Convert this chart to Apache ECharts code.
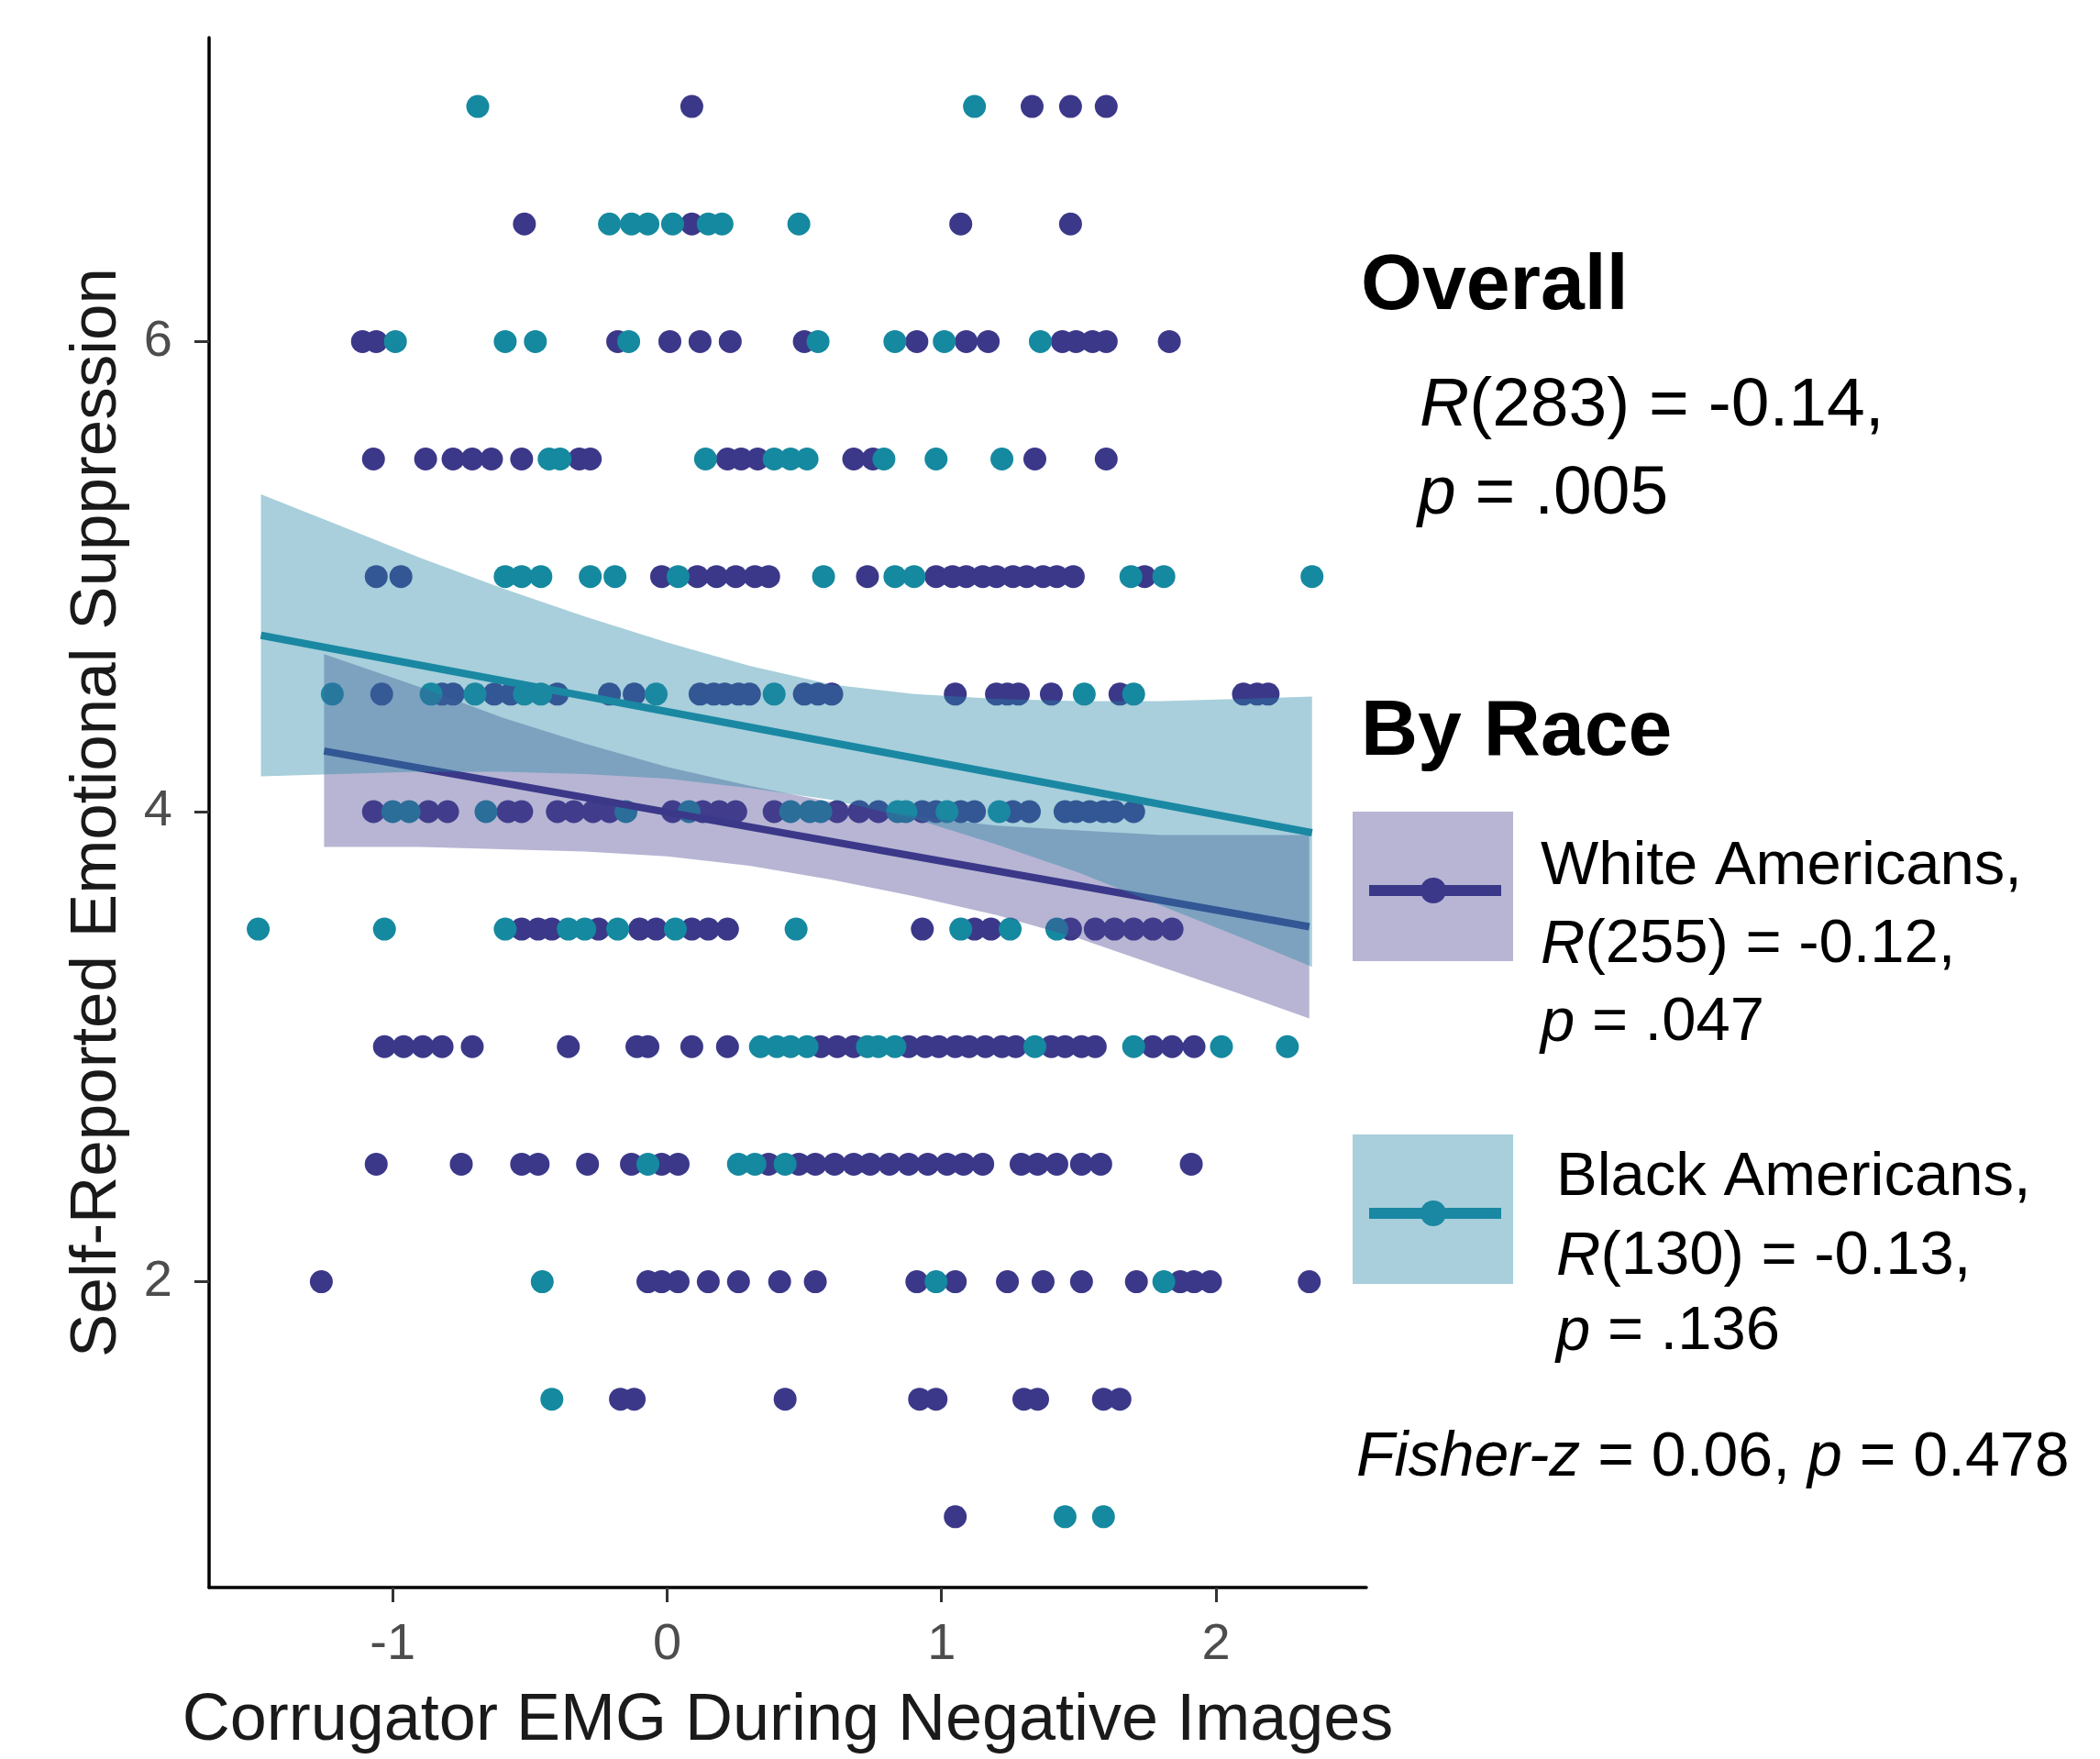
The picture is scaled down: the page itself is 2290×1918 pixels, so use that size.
<!DOCTYPE html>
<html>
<head>
<meta charset="utf-8">
<script src="https://cdn.jsdelivr.net/npm/echarts@6/dist/echarts.min.js"></script>
<style>
  html, body { margin: 0; padding: 0; background: #fff; }
  #chart { width: 2290px; height: 1918px; }
</style>
</head>
<body>
<div id="chart"></div>
<script>
// scatter data: [emg, suppression]
const whitePoints = [
  [0.09, 7], [1.33, 7], [1.47, 7], [1.60, 7],
  [-0.52, 6.5], [0.09, 6.5], [1.07, 6.5], [1.47, 6.5],
  [-1.11, 6], [-1.06, 6], [-0.18, 6], [0.01, 6], [0.12, 6], [0.23, 6], [0.50, 6], [0.91, 6], [1.09, 6], [1.17, 6],
  [1.44, 6], [1.49, 6], [1.55, 6], [1.60, 6], [1.83, 6],
  [-1.07, 5.5], [-0.88, 5.5], [-0.78, 5.5], [-0.71, 5.5], [-0.64, 5.5], [-0.53, 5.5], [-0.32, 5.5], [-0.28, 5.5],
  [0.22, 5.5], [0.27, 5.5], [0.33, 5.5], [0.68, 5.5], [0.75, 5.5], [1.34, 5.5], [1.60, 5.5],
  [-1.06, 5], [-0.97, 5], [-0.02, 5], [0.11, 5], [0.18, 5], [0.25, 5], [0.32, 5], [0.37, 5], [0.73, 5], [0.98, 5],
  [1.04, 5], [1.09, 5], [1.15, 5], [1.20, 5], [1.26, 5], [1.31, 5], [1.37, 5], [1.42, 5], [1.48, 5], [1.74, 5],
  [-1.04, 4.5], [-0.82, 4.5], [-0.78, 4.5], [-0.63, 4.5], [-0.57, 4.5], [-0.40, 4.5], [-0.21, 4.5], [-0.12, 4.5],
  [0.12, 4.5], [0.17, 4.5], [0.21, 4.5], [0.26, 4.5], [0.30, 4.5], [0.50, 4.5], [0.55, 4.5], [0.60, 4.5],
  [1.05, 4.5], [1.20, 4.5], [1.24, 4.5], [1.28, 4.5], [1.40, 4.5], [1.65, 4.5], [2.10, 4.5], [2.15, 4.5], [2.19, 4.5],
  [-1.07, 4], [-0.87, 4], [-0.80, 4], [-0.58, 4], [-0.53, 4], [-0.40, 4], [-0.34, 4], [-0.27, 4], [-0.21, 4],
  [0.02, 4], [0.13, 4], [0.19, 4], [0.25, 4], [0.39, 4], [0.62, 4], [0.70, 4], [0.77, 4], [0.93, 4], [0.98, 4],
  [1.07, 4], [1.12, 4], [1.26, 4], [1.32, 4], [1.45, 4], [1.49, 4], [1.54, 4], [1.59, 4], [1.63, 4], [1.70, 4],
  [-0.53, 3.5], [-0.47, 3.5], [-0.42, 3.5], [-0.25, 3.5], [-0.10, 3.5], [-0.04, 3.5], [0.09, 3.5], [0.15, 3.5],
  [0.22, 3.5], [0.93, 3.5], [1.12, 3.5], [1.18, 3.5], [1.47, 3.5], [1.56, 3.5], [1.63, 3.5], [1.70, 3.5], [1.77, 3.5], [1.84, 3.5],
  [-1.03, 3], [-0.96, 3], [-0.89, 3], [-0.82, 3], [-0.71, 3], [-0.36, 3], [-0.11, 3], [-0.07, 3], [0.09, 3], [0.22, 3],
  [0.56, 3], [0.62, 3], [0.68, 3], [0.88, 3], [0.94, 3], [0.99, 3], [1.05, 3], [1.10, 3], [1.16, 3], [1.22, 3],
  [1.27, 3], [1.40, 3], [1.45, 3], [1.51, 3], [1.56, 3], [1.77, 3], [1.84, 3], [1.92, 3],
  [-1.06, 2.5], [-0.75, 2.5], [-0.53, 2.5], [-0.47, 2.5], [-0.29, 2.5], [-0.13, 2.5], [-0.02, 2.5], [0.04, 2.5],
  [0.37, 2.5], [0.48, 2.5], [0.54, 2.5], [0.61, 2.5], [0.68, 2.5], [0.74, 2.5], [0.81, 2.5], [0.88, 2.5], [0.95, 2.5],
  [1.02, 2.5], [1.08, 2.5], [1.15, 2.5], [1.29, 2.5], [1.35, 2.5], [1.42, 2.5], [1.51, 2.5], [1.58, 2.5], [1.91, 2.5],
  [-1.26, 2], [-0.07, 2], [-0.02, 2], [0.04, 2], [0.15, 2], [0.26, 2], [0.41, 2], [0.54, 2], [0.91, 2], [1.05, 2],
  [1.24, 2], [1.37, 2], [1.51, 2], [1.71, 2], [1.87, 2], [1.92, 2], [1.98, 2], [2.34, 2],
  [-0.17, 1.5], [-0.12, 1.5], [0.43, 1.5], [0.92, 1.5], [0.98, 1.5], [1.30, 1.5], [1.35, 1.5], [1.59, 1.5], [1.65, 1.5],
  [1.05, 1]
];
const blackPoints = [
  [-0.69, 7], [1.12, 7],
  [-0.21, 6.5], [-0.13, 6.5], [-0.07, 6.5], [0.02, 6.5], [0.15, 6.5], [0.20, 6.5], [0.48, 6.5],
  [-0.99, 6], [-0.59, 6], [-0.48, 6], [-0.14, 6], [0.55, 6], [0.83, 6], [1.01, 6], [1.36, 6],
  [-0.43, 5.5], [-0.39, 5.5], [0.14, 5.5], [0.39, 5.5], [0.45, 5.5], [0.51, 5.5], [0.79, 5.5], [0.98, 5.5], [1.22, 5.5],
  [-0.59, 5], [-0.53, 5], [-0.46, 5], [-0.28, 5], [-0.19, 5], [0.04, 5], [0.57, 5], [0.83, 5], [0.90, 5], [1.69, 5], [1.81, 5], [2.35, 5],
  [-1.22, 4.5], [-0.86, 4.5], [-0.70, 4.5], [-0.52, 4.5], [-0.46, 4.5], [-0.04, 4.5], [0.39, 4.5], [1.52, 4.5], [1.70, 4.5],
  [-1.00, 4], [-0.94, 4], [-0.66, 4], [-0.15, 4], [0.08, 4], [0.45, 4], [0.52, 4], [0.56, 4], [0.84, 4], [0.87, 4], [1.02, 4], [1.21, 4],
  [-1.49, 3.5], [-1.03, 3.5], [-0.59, 3.5], [-0.36, 3.5], [-0.30, 3.5], [-0.18, 3.5], [0.03, 3.5], [0.47, 3.5], [1.07, 3.5], [1.25, 3.5], [1.42, 3.5],
  [0.34, 3], [0.40, 3], [0.45, 3], [0.51, 3], [0.73, 3], [0.77, 3], [0.83, 3], [1.34, 3], [1.70, 3], [2.02, 3], [2.26, 3],
  [-0.07, 2.5], [0.26, 2.5], [0.32, 2.5], [0.43, 2.5],
  [-0.455, 2], [0.98, 2], [1.81, 2],
  [-0.42, 1.5],
  [1.45, 1], [1.59, 1]
];

// fitted lines (ends) and confidence bands
const whiteFitX = [-1.25, 2.34];
const whiteFitY = [4.258, 3.51];
const blackFitX = [-1.48, 2.35];
const blackFitY = [4.75, 3.91];

const whiteBandX  = [-1.25, -0.9, -0.6, -0.3, 0.0, 0.3, 0.6, 0.9, 1.2, 1.5, 1.8, 2.1, 2.34];
const whiteBandHi = [4.67, 4.53, 4.40, 4.29, 4.19, 4.11, 4.04, 3.98, 3.94, 3.92, 3.90, 3.90, 3.90];
const whiteBandLo = [3.85, 3.85, 3.84, 3.83, 3.81, 3.77, 3.71, 3.64, 3.56, 3.46, 3.34, 3.22, 3.12];

const blackBandX  = [-1.48, -1.2, -0.9, -0.6, -0.3, 0.0, 0.3, 0.6, 0.9, 1.2, 1.5, 1.8, 2.1, 2.35];
const blackBandHi = [5.35, 5.22, 5.08, 4.95, 4.83, 4.72, 4.62, 4.54, 4.50, 4.48, 4.47, 4.47, 4.48, 4.49];
const blackBandLo = [4.15, 4.16, 4.17, 4.17, 4.16, 4.14, 4.10, 4.05, 3.97, 3.86, 3.74, 3.60, 3.46, 3.34];

const xTicks = [-1, 0, 1, 2];
const yTicks = [2, 4, 6];

const PURPLE = '#3b3889';
const TEAL = '#15899f';
const FONT = "'Liberation Sans', Arial, sans-serif";

function band(name, xs, lo, hi, fill, z) {
  return {
    type: 'custom',
    name: name,
    z: z,
    silent: true,
    clip: true,
    encode: { x: 0, y: [1, 2] },
    data: xs.map((x, i) => [x, lo[i], hi[i]]),
    renderItem: function (params, api) {
      if (params.dataIndex !== 0) return null;
      const top = xs.map((x, i) => api.coord([x, hi[i]]));
      const bot = xs.map((x, i) => api.coord([x, lo[i]])).reverse();
      return {
        type: 'polygon',
        shape: { points: top.concat(bot) },
        style: { fill: fill, opacity: 0.4 }
      };
    }
  };
}

function fitLine(name, xs, ys, color, z) {
  return {
    type: 'line',
    name: name,
    z: z,
    silent: true,
    symbol: 'none',
    data: xs.map((x, i) => [x, ys[i]]),
    lineStyle: { color: color, width: 8 }
  };
}

function txt(x, y, text, size) {
  return {
    type: 'text',
    x: x,
    y: y,
    style: {
      text: text,
      fill: '#000',
      fontSize: size,
      fontFamily: FONT,
      textAlign: 'left',
      textVerticalAlign: 'middle',
      rich: {
        i: { fontStyle: 'italic', fontSize: size, fontFamily: FONT, fill: '#000' },
        n: { fontSize: size, fontFamily: FONT, fill: '#000' }
      }
    }
  };
}

function bold(x, y, text) {
  return {
    type: 'text',
    x: x,
    y: y,
    style: { text: text, fill: '#000', fontSize: 86, fontWeight: 'bold', fontFamily: FONT, textAlign: 'left', textVerticalAlign: 'middle' }
  };
}

function legendKey(y, fill, color) {
  return [
    { type: 'rect', shape: { x: 1475, y: y, width: 175, height: 163 }, style: { fill: fill } },
    { type: 'line', shape: { x1: 1493, y1: y + 86, x2: 1637, y2: y + 86 }, style: { stroke: color, lineWidth: 12 } },
    { type: 'circle', shape: { cx: 1563, cy: y + 86, r: 14 }, style: { fill: color } }
  ];
}

const chart = echarts.init(document.getElementById('chart'));

const option = {
  backgroundColor: '#fff',
  animation: false,
  grid: { left: 228, top: 41, width: 1262, height: 1705 },
  xAxis: {
    type: 'value',
    min: -1.669,
    max: 2.548,
    name: 'Corrugator EMG During Negative Images',
    nameLocation: 'middle',
    nameGap: 110,
    nameTextStyle: { fontSize: 72, color: '#1a1a1a', fontFamily: FONT },
    axisLine: { onZero: false, lineStyle: { color: '#000', width: 3.5 } },
    axisTick: { length: 16, customValues: xTicks, lineStyle: { color: '#333', width: 3 } },
    axisLabel: { customValues: xTicks, fontSize: 56, color: '#4d4d4d', margin: 35, fontFamily: FONT },
    splitLine: { show: false }
  },
  yAxis: {
    type: 'value',
    min: 0.699,
    max: 7.293,
    name: 'Self-Reported Emotional Suppression',
    nameLocation: 'middle',
    nameGap: 86,
    nameTextStyle: { fontSize: 71, color: '#1a1a1a', fontFamily: FONT },
    axisLine: { onZero: false, lineStyle: { color: '#000', width: 3.5 } },
    axisTick: { length: 16, customValues: yTicks, lineStyle: { color: '#333', width: 3 } },
    axisLabel: { customValues: yTicks, fontSize: 56, color: '#4d4d4d', margin: 40, fontFamily: FONT },
    splitLine: { show: false }
  },
  series: [
    { type: 'scatter', name: 'White Americans', z: 1, symbolSize: 25, itemStyle: { color: PURPLE, opacity: 1 }, data: whitePoints },
    { type: 'scatter', name: 'Black Americans', z: 1, symbolSize: 25, itemStyle: { color: TEAL, opacity: 1 }, data: blackPoints },
    band('White band', whiteBandX, whiteBandLo, whiteBandHi, '#4b4691', 2),
    fitLine('White fit', whiteFitX, whiteFitY, PURPLE, 3),
    band('Black band', blackBandX, blackBandLo, blackBandHi, '#2587a5', 4),
    fitLine('Black fit', blackFitX, blackFitY, '#1a88a2', 5)
  ],
  graphic: [
    bold(1484, 313, 'Overall'),
    txt(1548, 443, '{i|R}{n|(283) = -0.14,}', 75),
    txt(1546, 539, '{i|p}{n| = .005}', 75),
    bold(1484, 799, 'By Race'),
    ...legendKey(885, '#b7b5d3', PURPLE),
    ...legendKey(1237, '#a8cfdb', '#1a88a2'),
    txt(1680, 946, '{n|White Americans,}', 67),
    txt(1680, 1031, '{i|R}{n|(255) = -0.12,}', 67),
    txt(1680, 1116, '{i|p}{n| = .047}', 67),
    txt(1697, 1285, '{n|Black Americans,}', 67),
    txt(1697, 1371, '{i|R}{n|(130) = -0.13,}', 67),
    txt(1697, 1453, '{i|p}{n| = .136}', 67),
    txt(1479, 1590, '{i|Fisher-z}{n| = 0.06, }{i|p}{n| = 0.478}', 68)
  ]
};

chart.setOption(option);
</script>
</body>
</html>
